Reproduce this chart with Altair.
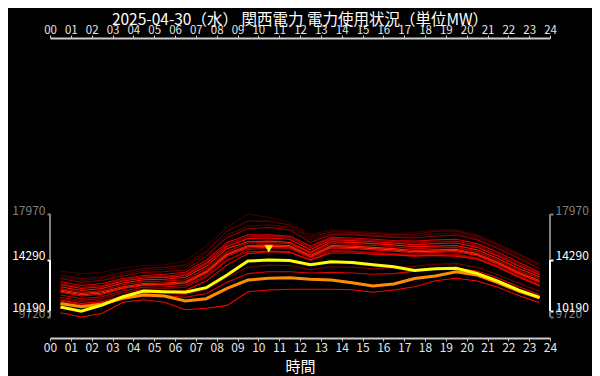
import altair as alt
import pandas as pd

# ---------------- data ----------------
hours = list(range(24))

today = [10520, 10190, 10680, 11350, 11800, 11750, 11700, 12070, 13080, 14200, 14290, 14250,
         13900, 14150, 14080, 13900, 13750, 13450, 13580, 13620, 13220, 12600, 11880, 11300]
yesterday = [10800, 10550, 10750, 11220, 11480, 11400, 11000, 11190, 12020, 12680, 12820, 12870,
             12750, 12680, 12470, 12200, 12360, 12800, 13000, 13350, 13080, 12470, 11800, 11250]

past_names = ["A", "P", "B", "C", "Q", "D", "E", "F", "G", "R", "H", "I", "J", "K", "L", "M", "N", "O"]
past_values = [
    [13400, 13200, 13300, 13650, 13850, 13900, 14200, 15400, 16900, 17970, 17700, 17300, 16300, 16700, 16600, 16500, 16400, 16500, 16700, 16700, 16300, 15600, 14800, 14000],
    [12950, 12650, 12800, 13150, 13450, 13550, 13750, 14800, 16300, 17000, 17100, 16900, 15900, 16400, 16400, 16300, 16200, 16200, 16400, 16450, 16050, 15350, 14550, 13800],
    [13100, 12800, 12950, 13300, 13600, 13700, 13900, 15000, 16600, 17400, 17400, 17100, 16100, 16550, 16500, 16400, 16300, 16350, 16600, 16600, 16200, 15500, 14700, 13950],
    [12800, 12500, 12650, 13000, 13300, 13350, 13500, 14600, 16100, 16800, 16900, 16700, 15700, 16300, 16300, 16200, 16100, 16050, 16200, 16300, 15900, 15200, 14400, 13600],
    [12400, 12100, 12250, 12700, 12950, 13000, 13150, 14150, 15550, 16150, 16200, 16100, 15250, 16000, 15950, 15850, 15750, 15650, 15750, 15800, 15450, 14750, 13950, 13200],
    [12550, 12250, 12400, 12800, 13050, 13150, 13300, 14300, 15700, 16300, 16300, 16200, 15400, 16100, 16050, 15950, 15850, 15800, 15900, 15950, 15600, 14900, 14100, 13300],
    [12300, 12000, 12150, 12600, 12850, 12900, 13050, 14000, 15400, 16000, 16050, 15950, 15100, 15900, 15850, 15750, 15650, 15500, 15600, 15650, 15300, 14600, 13800, 13100],
    [12150, 11850, 12000, 12450, 12700, 12750, 12900, 13800, 15200, 15750, 15800, 15700, 14900, 15750, 15700, 15600, 15500, 15350, 15400, 15450, 15100, 14400, 13600, 12950],
    [12000, 11700, 11850, 12300, 12550, 12600, 12700, 13600, 14950, 15650, 15700, 15600, 14800, 15600, 15550, 15450, 15350, 15200, 15250, 15300, 14950, 14250, 13450, 12800],
    [11800, 11500, 11650, 12050, 12300, 12350, 12450, 13300, 14700, 15350, 15400, 15350, 14550, 15350, 15300, 15200, 15100, 14950, 15000, 15050, 14700, 14000, 13200, 12550],
    [11880, 11600, 11750, 12150, 12400, 12450, 12550, 13400, 14800, 15450, 15500, 15450, 14650, 15450, 15400, 15300, 15200, 15050, 15100, 15150, 14800, 14100, 13300, 12650],
    [11700, 11400, 11550, 12000, 12250, 12300, 12400, 13200, 14600, 15250, 15300, 15250, 14500, 15250, 15200, 15100, 15000, 14850, 14900, 14950, 14650, 13950, 13150, 12500],
    [11480, 11200, 11350, 11800, 12100, 12150, 12250, 13000, 14300, 14950, 15000, 14950, 14250, 15000, 14950, 14850, 14750, 14650, 14700, 14750, 14450, 13800, 13000, 12300],
    [11300, 11050, 11200, 11650, 11950, 12000, 12100, 12900, 14200, 15100, 15250, 15200, 14450, 15050, 15000, 14900, 14800, 14700, 14750, 14700, 14400, 13750, 12950, 12250],
    [11080, 10800, 10950, 11400, 11700, 11750, 11850, 12600, 13900, 14800, 14950, 14900, 14300, 14850, 14850, 14750, 14700, 14600, 14650, 14600, 14350, 13700, 12900, 12200],
    [11200, 10950, 11050, 11400, 11650, 11600, 11500, 11900, 12900, 13700, 13880, 13850, 13500, 13750, 13700, 13600, 13650, 13800, 13950, 14000, 13700, 13100, 12400, 11800],
    [11000, 10700, 10850, 11250, 11500, 11450, 11300, 11600, 12500, 13200, 13350, 13350, 13250, 13300, 13250, 13150, 13200, 13400, 13600, 13650, 13400, 12850, 12150, 11500],
    [10060, 9720, 10000, 10900, 11100, 10900, 10300, 10420, 10650, 11750, 11880, 11940, 11940, 11940, 11900, 11700, 11880, 12150, 12630, 12820, 12600, 12100, 11450, 10870],
]
past_colors = ["#3a0000", "#4a0000", "#5c0000", "#8a0000", "#a00000", "#d40000", "#ff0000", "#ff1400",
               "#b80000", "#ff3000", "#ff2200", "#ee0000", "#c80000", "#9a0000", "#ff0000", "#6e0000",
               "#e00000", "#ff0000"]

peak_hour = [10]
peak_value = [14290]
axis_values = [9720, 10190, 14290, 17970]
segment_top = [17970, 14290, 10190]
segment_bottom = [14290, 10190, 9720]
segment_colors = ["#808080", "#ffffff", "#808080"]
axis_sides = [0, 24]

title_text = "2025-04-30（水） 関西電力 電力使用状況（単位MW）"
x_title = "時間"

# ---------------- tables ----------------
rows = []
for name, vals, col in zip(past_names, past_values, past_colors):
    for h, v in zip(hours, vals):
        rows.append({"day": name, "hour": h, "value": v, "color": col})
past_df = pd.DataFrame(rows)
yest_df = pd.DataFrame({"hour": hours, "value": yesterday})
today_df = pd.DataFrame({"hour": hours, "value": today})
peak_df = pd.DataFrame({"hour": peak_hour, "value": peak_value})
seg_df = pd.DataFrame([
    {"side": s, "top": t, "bottom": b, "color": c}
    for s in axis_sides
    for t, b, c in zip(segment_top, segment_bottom, segment_colors)
])

FONT = "Noto Sans CJK JP"
xscale = alt.Scale(domain=[0, 24], nice=False, zero=False)
yscale = alt.Scale(domain=[8040, 32070], nice=False, zero=False)

hi_test = "datum.value == 14290 || datum.value == 10190"
cond_color = {"condition": {"test": hi_test, "value": "#ffffff"}, "value": "#808080"}

def x_axis(orient, title=None):
    kw = dict(orient=orient, values=list(range(25)), format="02d", labelAngle=0,
              labelColor="#e6e6e6", labelFontSize=11.5, labelFont=FONT, labelPadding=0,
              tickSize=3, tickColor="#cccccc", tickWidth=1, domainColor="#cccccc",
              domainWidth=2, grid=False, labelFlush=False)
    if title:
        kw.update(title=title, titleColor="#ffffff", titleFontSize=15, titleFont=FONT,
                  titleFontWeight="normal", titlePadding=6, labelPadding=1, labelFontSize=12)
    else:
        kw.update(title=None)
    return alt.Axis(**kw)

def y_axis(orient):
    return alt.Axis(orient=orient, values=axis_values, format="d", domain=False, grid=False,
                    title=None, tickSize=3, tickWidth=2, tickColor=cond_color,
                    labelColor=cond_color, labelFontSize=12, labelFont=FONT,
                    labelBaseline="alphabetic", labelOverlap=False, labelPadding=2)

xpos = "datum.hour + 0.5"

past = alt.Chart(past_df).transform_calculate(x=xpos).mark_line(strokeWidth=1.1).encode(
    x=alt.X("x:Q", scale=xscale, axis=x_axis("bottom", x_title)),
    y=alt.Y("value:Q", scale=yscale, axis=y_axis("left")),
    detail="day:N",
    color=alt.Color("color:N", scale=None),
)

yest = alt.Chart(yest_df).transform_calculate(x=xpos).mark_line(
    strokeWidth=3, color="#ff8c00").encode(
    x=alt.X("x:Q", scale=xscale, axis=x_axis("top")),
    y=alt.Y("value:Q", scale=yscale, axis=y_axis("right")),
)

tod = alt.Chart(today_df).transform_calculate(x=xpos).mark_line(
    strokeWidth=3, color="#ffff00").encode(
    x=alt.X("x:Q", scale=xscale, axis=None),
    y=alt.Y("value:Q", scale=yscale, axis=None),
)

peak = alt.Chart(peak_df).transform_calculate(x=xpos).mark_point(
    shape="triangle-down", filled=True, color="#ffff00", opacity=1, size=70, yOffset=-11).encode(
    x=alt.X("x:Q", scale=xscale, axis=None),
    y=alt.Y("value:Q", scale=yscale, axis=None),
)

segs = alt.Chart(seg_df).mark_rule(strokeWidth=2).encode(
    x=alt.X("side:Q", scale=xscale, axis=None),
    y=alt.Y("top:Q", scale=yscale, axis=None),
    y2="bottom:Q",
    color=alt.Color("color:N", scale=None),
)

chart = alt.layer(past, yest, tod, peak, segs).resolve_axis(
    x="independent", y="independent"
).properties(
    width=500, height=300,
    padding={"left": 42, "top": 30, "right": 42, "bottom": 38},
    autosize=alt.AutoSizeParams(type="none"),
    title=alt.TitleParams(title_text, fontSize=15.5, color="#ffffff", font=FONT,
                          fontWeight="normal", anchor="middle", offset=-4),
    background="#000000",
).configure_view(stroke=None)

chart.save("out.html", embed_options={"renderer": "svg", "actions": False})
